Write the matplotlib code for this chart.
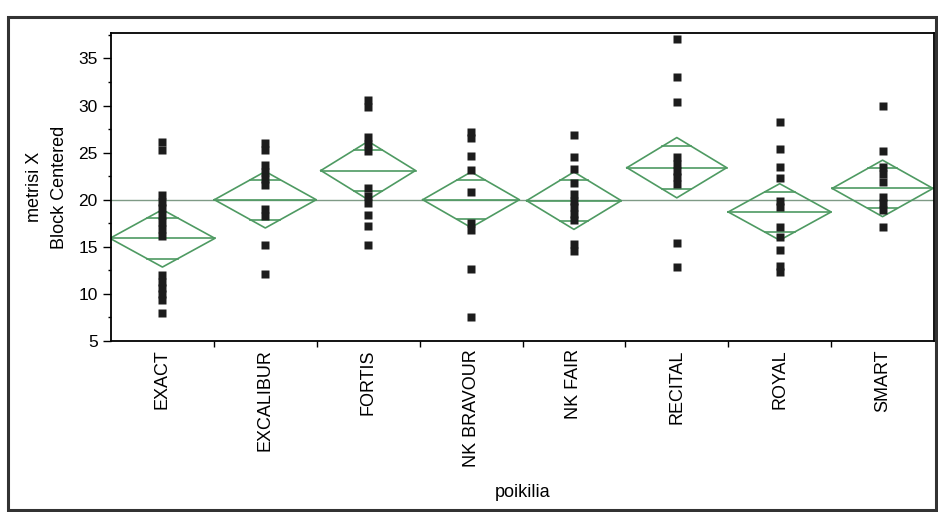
import numpy as np
import matplotlib
matplotlib.use("Agg")
import matplotlib.pyplot as plt
from matplotlib.patches import Rectangle

plt.rcParams['font.family'] = ['Liberation Sans', 'DejaVu Sans']

# groups (poikilia)
varieties = ["EXACT", "EXCALIBUR", "FORTIS", "NK BRAVOUR", "NK FAIR",
             "RECITAL", "ROYAL", "SMART"]

exact = [26.1, 25.3, 20.5, 19.8, 19.1, 18.4, 17.6, 16.9, 16.2,
         12.0, 11.3, 10.6, 10.0, 9.4, 8.0]
excalibur = [26.0, 25.3, 23.7, 22.9, 22.2, 21.6, 19.0, 18.3, 15.2, 12.1]
fortis = [30.6, 29.8, 26.7, 25.9, 25.2, 21.2, 20.4, 19.7, 18.4, 17.2, 15.2]
nk_bravour = [27.2, 26.6, 24.6, 23.2, 20.8, 17.5, 16.8, 12.6, 7.5]
nk_fair = [26.9, 24.5, 23.3, 21.8, 20.6, 19.9, 19.2, 18.5, 17.8, 15.3, 14.6]
recital = [37.1, 33.0, 30.4, 24.5, 23.8, 23.1, 22.4, 21.7, 15.4, 12.9]
royal = [28.2, 25.4, 23.5, 22.3, 19.9, 19.2, 17.1, 16.0, 14.7, 13.0, 12.3]
smart = [30.0, 25.2, 23.5, 22.7, 21.9, 20.3, 19.6, 18.9, 17.1]
groups = [exact, excalibur, fortis, nk_bravour, nk_fair, recital, royal, smart]

# means diamonds: group mean and 95% CI half width
means = [15.9, 20.0, 23.1, 20.0, 19.9, 23.4, 18.7, 21.2]
ci_half = [3.05, 3.0, 3.1, 2.95, 3.05, 3.2, 3.0, 3.0]
grand_mean = 20.0

# diamond widths (x units)
widths = [1.02, 0.99, 0.92, 0.94, 0.92, 0.97, 1.0, 0.98]

green = '#4e9a62'

fig = plt.figure(figsize=(9.38, 5.12), dpi=100)
ax = fig.add_axes([111/938, 1 - 341/512, 823/938, 308/512])

# grand mean
ax.axhline(grand_mean, color='#7f9a86', lw=1.0, zorder=1)

for i, vals in enumerate(groups):
    ax.plot([i] * len(vals), vals, 's', color='#1c1c1c', ms=6, mec='none', zorder=3)

    m, h, w = means[i], ci_half[i], widths[i]
    hw = w / 2
    ax.plot([i - hw, i, i + hw, i, i - hw], [m, m + h, m, m - h, m],
            color=green, lw=1.2, zorder=2)
    ax.plot([i - hw, i + hw], [m, m], color=green, lw=1.2, zorder=2)
    # overlap marks
    d = h / np.sqrt(2)
    ow = hw * (1 - 1 / np.sqrt(2))
    for s in (1, -1):
        ax.plot([i - ow, i + ow], [m + s * d, m + s * d], color=green, lw=1.2, zorder=2)

ax.set_xlim(-0.5, 7.5)
ax.set_ylim(5, 37.7)
ax.set_yticks([5, 10, 15, 20, 25, 30, 35])
ax.set_yticks(np.arange(7.5, 37.6, 5), minor=True)
ax.set_xticks(range(len(varieties)))
ax.set_xticklabels(varieties, rotation=90, fontsize=13)
ax.set_xticks(np.arange(0.5, 7, 1), minor=True)
ax.tick_params(axis='x', which='major', length=0, pad=6)
ax.tick_params(axis='x', which='minor', length=4, width=1, direction='out')
ax.tick_params(axis='y', which='major', length=6, width=1, labelsize=12.5)
ax.tick_params(axis='y', which='minor', length=2, width=1)

for sp in ax.spines.values():
    sp.set_linewidth(1.3)

ax.set_ylabel('metrisi X\nBlock Centered', fontsize=13, multialignment='center',
              linespacing=1.6)
ax.yaxis.set_label_coords(-0.052, 0.5)
ax.set_xlabel('poikilia', fontsize=13)
ax.xaxis.set_label_coords(0.5, -0.465)

# scanned outer frame
fig.patches.append(Rectangle((8/938, 2/512), 928/938, 493/512, transform=fig.transFigure,
                             fill=False, lw=2.2, ec='#333333'))

fig.savefig('out.png', dpi=100)
